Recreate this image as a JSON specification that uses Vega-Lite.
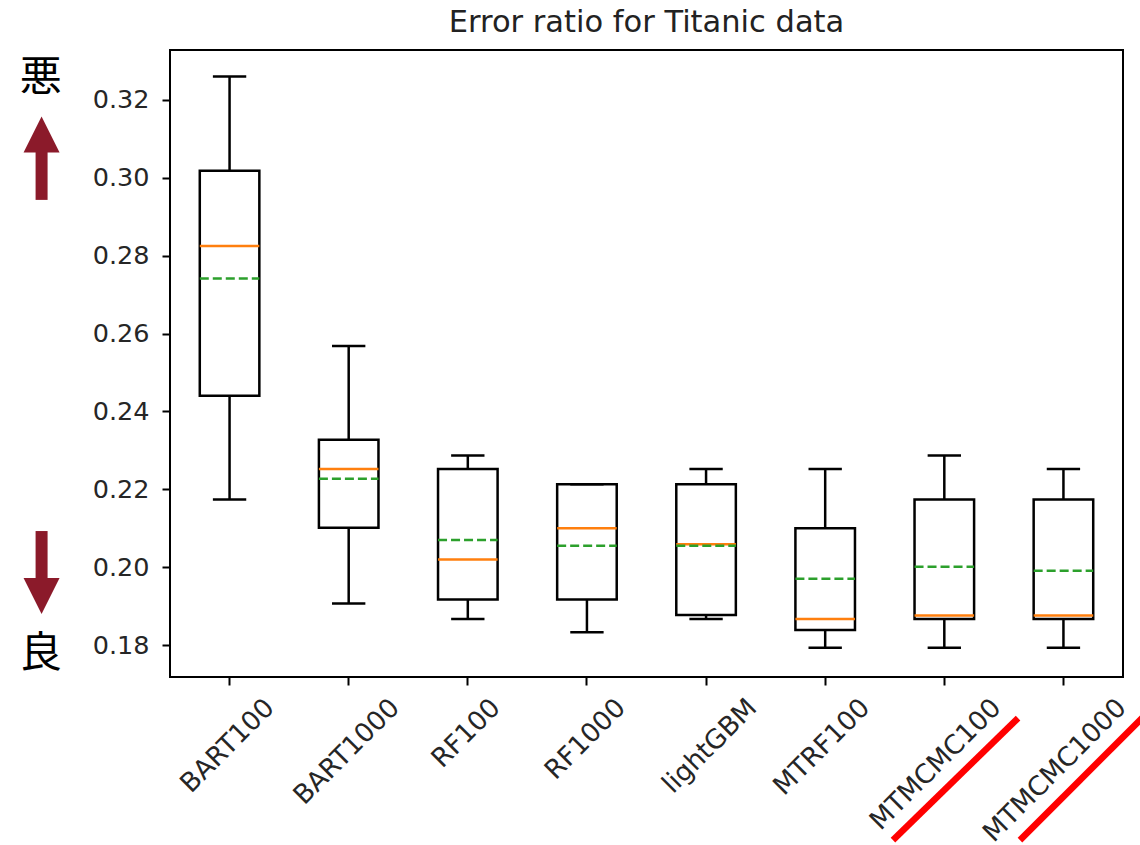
{
  "$schema": "https://vega.github.io/schema/vega-lite/v6.json",
  "width": 953,
  "height": 627,
  "autosize": {"type": "none"},
  "padding": {"left": 170, "top": 50, "right": 17, "bottom": 168},
  "background": "white",
  "title": {"text": "Error ratio for Titanic data", "font": "DejaVu Sans", "fontSize": 30.5, "fontWeight": "normal", "color": "#222222", "offset": 12, "anchor": "middle"},
  "config": {
    "view": {"stroke": "black", "strokeWidth": 2},
    "axis": {"domain": false, "grid": false, "tickColor": "black", "tickWidth": 2, "labelFont": "DejaVu Sans", "labelFontSize": 25.5, "labelColor": "#262626", "labelLimit": 400}
  },
  "datasets": {
    "boxes": [
      {"model": "BART100", "wlo": 0.2174, "q1": 0.2440, "median": 0.2825, "q3": 0.3018, "whi": 0.3260, "mean": 0.2741},
      {"model": "BART1000", "wlo": 0.1907, "q1": 0.2101, "median": 0.2252, "q3": 0.2327, "whi": 0.2568, "mean": 0.2227},
      {"model": "RF100", "wlo": 0.1867, "q1": 0.1917, "median": 0.2020, "q3": 0.2252, "whi": 0.2287, "mean": 0.2070},
      {"model": "RF1000", "wlo": 0.1833, "q1": 0.1917, "median": 0.2100, "q3": 0.2213, "whi": 0.2213, "mean": 0.2055},
      {"model": "lightGBM", "wlo": 0.1867, "q1": 0.1877, "median": 0.2059, "q3": 0.2213, "whi": 0.2252, "mean": 0.2055},
      {"model": "MTRF100", "wlo": 0.1793, "q1": 0.1839, "median": 0.1867, "q3": 0.2100, "whi": 0.2252, "mean": 0.1970},
      {"model": "MTMCMC100", "wlo": 0.1793, "q1": 0.1867, "median": 0.1876, "q3": 0.2174, "whi": 0.2287, "mean": 0.2001},
      {"model": "MTMCMC1000", "wlo": 0.1793, "q1": 0.1867, "median": 0.1876, "q3": 0.2174, "whi": 0.2252, "mean": 0.1991}
    ],
    "kanji": [
      {"t": "悪", "ax": -0.585, "ay": 0.32565},
      {"t": "良", "ax": -0.585, "ay": 0.17769}
    ],
    "shafts": [
      {"ax": -0.578, "y1": 0.29431, "y2": 0.30844},
      {"ax": -0.578, "y1": 0.20928, "y2": 0.19413}
    ],
    "heads": [
      {"ax": -0.578, "ay": 0.31113, "dir": "up"},
      {"ax": -0.578, "ay": 0.19259, "dir": "down"}
    ],
    "slashes": [
      {"x1": 6.569, "y1": 0.12991, "x2": 7.619, "y2": 0.16125},
      {"x1": 7.635, "y1": 0.12991, "x2": 8.668, "y2": 0.16150}
    ]
  },
  "layer": [
    {
      "data": {"name": "boxes"},
      "layer": [
        {
          "mark": {"type": "rule", "color": "black", "strokeWidth": 2.5},
          "encoding": {
            "x": {"field": "model", "type": "nominal", "sort": null, "title": null,
                  "scale": {"paddingInner": 0, "paddingOuter": 0},
                  "axis": {"title": null, "labelAngle": -45, "labelAlign": "right", "labelBaseline": "top", "tickSize": 8, "labelPadding": 9, "labelFontSize": 26.5, "labelLimit": 400,
                           "labelOffset": {"expr": "(length(datum.label)*17.1-31.5)*0.354"}}},
            "y": {"field": "wlo", "type": "quantitative", "title": null,
                  "scale": {"domain": [0.1718, 0.3328], "nice": false, "zero": false},
                  "axis": {"title": null, "values": [0.18, 0.2, 0.22, 0.24, 0.26, 0.28, 0.3, 0.32], "format": ".2f", "tickSize": 8, "labelPadding": 13}},
            "y2": {"field": "q1"}
          }
        },
        {
          "mark": {"type": "rule", "color": "black", "strokeWidth": 2.5},
          "encoding": {
            "x": {"field": "model", "type": "nominal", "sort": null, "title": null},
            "y": {"field": "q3", "type": "quantitative", "title": null, "scale": {"domain": [0.1718, 0.3328], "nice": false, "zero": false}},
            "y2": {"field": "whi"}
          }
        },
        {
          "mark": {"type": "rule", "color": "black", "strokeWidth": 2.5},
          "encoding": {
            "x": {"field": "model", "type": "nominal", "sort": null, "title": null, "bandPosition": 0.36},
            "x2": {"field": "model", "bandPosition": 0.64},
            "y": {"field": "wlo", "type": "quantitative", "title": null, "scale": {"domain": [0.1718, 0.3328], "nice": false, "zero": false}}
          }
        },
        {
          "mark": {"type": "rule", "color": "black", "strokeWidth": 2.5},
          "encoding": {
            "x": {"field": "model", "type": "nominal", "sort": null, "title": null, "bandPosition": 0.36},
            "x2": {"field": "model", "bandPosition": 0.64},
            "y": {"field": "whi", "type": "quantitative", "title": null, "scale": {"domain": [0.1718, 0.3328], "nice": false, "zero": false}}
          }
        },
        {
          "mark": {"type": "rect", "filled": false, "color": "black", "strokeWidth": 2.5},
          "encoding": {
            "x": {"field": "model", "type": "nominal", "sort": null, "title": null, "bandPosition": 0.25},
            "x2": {"field": "model", "bandPosition": 0.75},
            "y": {"field": "q1", "type": "quantitative", "title": null, "scale": {"domain": [0.1718, 0.3328], "nice": false, "zero": false}},
            "y2": {"field": "q3"}
          }
        },
        {
          "mark": {"type": "rule", "color": "#ff7f0e", "strokeWidth": 2.5},
          "encoding": {
            "x": {"field": "model", "type": "nominal", "sort": null, "title": null, "bandPosition": 0.25},
            "x2": {"field": "model", "bandPosition": 0.75},
            "y": {"field": "median", "type": "quantitative", "title": null, "scale": {"domain": [0.1718, 0.3328], "nice": false, "zero": false}}
          }
        },
        {
          "mark": {"type": "rule", "color": "#2ca02c", "strokeWidth": 2.5, "strokeDash": [9, 4]},
          "encoding": {
            "x": {"field": "model", "type": "nominal", "sort": null, "title": null, "bandPosition": 0.25},
            "x2": {"field": "model", "bandPosition": 0.75},
            "y": {"field": "mean", "type": "quantitative", "title": null, "scale": {"domain": [0.1718, 0.3328], "nice": false, "zero": false}}
          }
        }
      ]
    },
    {
      "layer": [
        {
          "data": {"name": "kanji"},
          "mark": {"type": "text", "font": "Noto Sans CJK JP", "fontSize": 42, "color": "black", "align": "center", "baseline": "middle"},
          "encoding": {
            "x": {"field": "ax", "type": "quantitative", "scale": {"domain": [0.5, 8.5], "nice": false, "zero": false}, "axis": null},
            "y": {"field": "ay", "type": "quantitative", "title": null, "scale": {"domain": [0.1718, 0.3328], "nice": false, "zero": false}},
            "text": {"field": "t"}
          }
        },
        {
          "data": {"name": "shafts"},
          "mark": {"type": "rule", "color": "#8b1a2a", "strokeWidth": 12},
          "encoding": {
            "x": {"field": "ax", "type": "quantitative", "scale": {"domain": [0.5, 8.5], "nice": false, "zero": false}, "axis": null},
            "y": {"field": "y1", "type": "quantitative", "title": null, "scale": {"domain": [0.1718, 0.3328], "nice": false, "zero": false}},
            "y2": {"field": "y2"}
          }
        },
        {
          "data": {"name": "heads"},
          "mark": {"type": "point", "filled": true, "opacity": 1, "size": 1296, "color": "#8b1a2a"},
          "encoding": {
            "x": {"field": "ax", "type": "quantitative", "scale": {"domain": [0.5, 8.5], "nice": false, "zero": false}, "axis": null},
            "y": {"field": "ay", "type": "quantitative", "title": null, "scale": {"domain": [0.1718, 0.3328], "nice": false, "zero": false}},
            "shape": {"field": "dir", "type": "nominal", "legend": null, "scale": {"domain": ["up", "down"], "range": ["M0,-1L1,1L-1,1Z", "M0,1L1,-1L-1,-1Z"]}}
          }
        },
        {
          "data": {"name": "slashes"},
          "mark": {"type": "rule", "color": "#ff0000", "strokeWidth": 6.5},
          "encoding": {
            "x": {"field": "x1", "type": "quantitative", "scale": {"domain": [0.5, 8.5], "nice": false, "zero": false}, "axis": null},
            "x2": {"field": "x2"},
            "y": {"field": "y1", "type": "quantitative", "title": null, "scale": {"domain": [0.1718, 0.3328], "nice": false, "zero": false}},
            "y2": {"field": "y2"}
          }
        }
      ]
    }
  ],
  "resolve": {"scale": {"x": "independent"}}
}
